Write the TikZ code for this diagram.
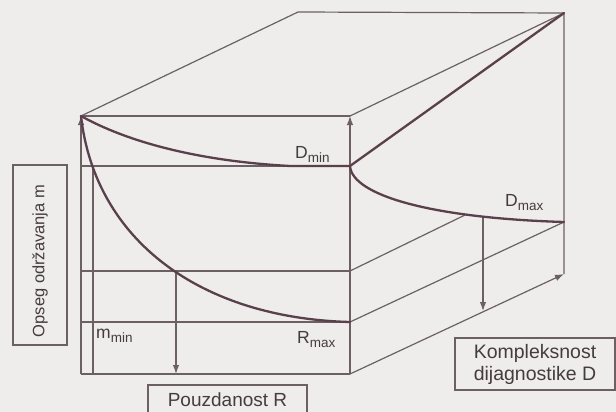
\documentclass[tikz,border=0pt]{standalone}
\usepackage{fontspec}
\setmainfont{Liberation Sans}
\usetikzlibrary{arrows.meta}
\definecolor{paper}{HTML}{EEEDEB}
\definecolor{ln}{HTML}{6C6063}
\definecolor{crv}{HTML}{5A404C}
\definecolor{txt}{HTML}{463B40}
\begin{document}
\begin{tikzpicture}[x=1pt,y=-1pt,
  edge/.style={draw=ln,line width=1.2pt},
  arr/.style={edge,-{Latex[length=9pt,width=6.5pt]}},
  curve/.style={draw=crv,line width=2.3pt,line cap=round},
  box/.style={draw=ln,line width=1.3pt,text=txt,inner sep=0pt},
  lab/.style={text=txt,anchor=base west,inner sep=0pt,font=\fontsize{17.5}{20}\selectfont}
]
\fill[paper] (0,0) rectangle (616,412);
\useasboundingbox (0,0) rectangle (616,412);

% corners
\coordinate (A) at (81,116);
\coordinate (B) at (350,116);
\coordinate (C) at (298,12);
\coordinate (K) at (564,13);
\coordinate (E) at (81,374);
\coordinate (F) at (350,374);
\coordinate (G) at (564,274);
\coordinate (L1) at (81,166);  \coordinate (R1) at (350,166);
\coordinate (L2) at (81,271);  \coordinate (R2) at (350,271);
\coordinate (L3) at (81,322);  \coordinate (R3) at (350,322);
\coordinate (V1) at (93,166);  \coordinate (V2) at (93,374);
\coordinate (Dend) at (564,222);
\coordinate (Dmid) at (465,215);
\coordinate (Rcut) at (176,271);
\coordinate (Rfoot) at (176,374);
\coordinate (Dcut) at (483,216);
\coordinate (Dfoot) at (483,311);

% box edges
\draw[edge] (A) -- (C) -- (K) -- (G);
\draw[edge] (B) -- (K);
\draw[edge] (A) -- (B);
\draw[edge] (L1) -- (R1);
\draw[edge] (L2) -- (R2);
\draw[edge] (L3) -- (R3);
\draw[edge] (E) -- (F);
\draw[edge] (V1) -- (V2);
\draw[edge] (R2) -- (Dmid);
\draw[edge] (R3) -- (Dend);
\draw[arr] (E) -- (A);
\draw[arr] (F) -- (B);
\draw[arr] (F) -- (G);
\draw[arr] (Rcut) -- (Rfoot);
\draw[arr] (Dcut) -- (Dfoot);

% thick curves
\draw[curve] (A) .. controls (95,240) and (200,318) .. (R3);
\draw[curve] (A) .. controls (115,135) and (180,160) .. (290,166) -- (R1);
\draw[curve] (R1) .. controls (352,195) and (430,218) .. (Dend);
\draw[curve] (R1) -- (K);

% labels
\node[lab] (dmin) at (295,158) {D\raisebox{-4.5pt}{\fontsize{13.5}{15}\selectfont min}};
\node[lab] (dmax) at (505,206) {D\raisebox{-4.5pt}{\fontsize{13.5}{15}\selectfont max}};
\node[lab] (mmin) at (96,338) {m\raisebox{-4.5pt}{\fontsize{13.5}{15}\selectfont min}};
\node[lab] (rmax) at (297,343) {R\raisebox{-4.5pt}{\fontsize{13.5}{15}\selectfont max}};

% boxes
\node[box,minimum width=54pt,minimum height=180pt] (opseg) at (40,255) {};
\node[text=txt,rotate=90,font=\fontsize{16.5}{19}\selectfont] (opsegt) at (40,261) {Opseg održavanja m};
\node[box,minimum width=159pt,minimum height=34pt] (pouz) at (227.5,402) {};
\node[text=txt,font=\fontsize{19}{22}\selectfont] (pouzt) at (227.5,399.5) {Pouzdanost R};
\node[box,minimum width=160pt,minimum height=52pt] (komp) at (535,364) {};
\node[text=txt,align=center,font=\fontsize{19.5}{22}\selectfont] (kompt) at (535,364) {Kompleksnost\\dijagnostike D};
\end{tikzpicture}
\end{document}
